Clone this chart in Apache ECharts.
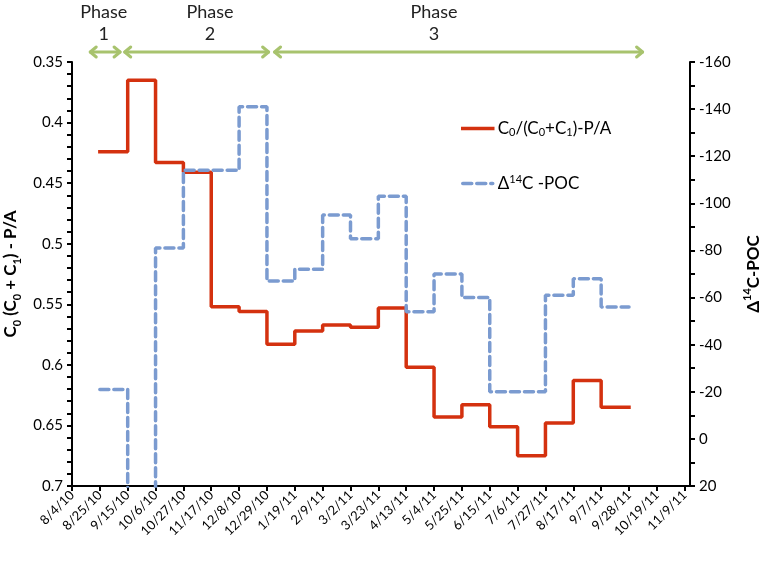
<!DOCTYPE html>
<html><head><meta charset="utf-8">
<script src="https://cdn.jsdelivr.net/npm/echarts@6/dist/echarts.min.js"></script>
<style>html,body{margin:0;padding:0;background:#fff}#c{width:762px;height:562px}</style>
</head><body><div id="c"></div>
<script>
// ---- data ----
const tickLabels = ['8/4/10','8/25/10','9/15/10','10/6/10','10/27/10','11/17/10','12/8/10','12/29/10','1/19/11','2/9/11','3/2/11','3/23/11','4/13/11','5/4/11','5/25/11','6/15/11','7/6/11','7/27/11','8/17/11','9/7/11','9/28/11','10/19/11','11/9/11'];
const axisEndDate = '11/13/11';
// step boundaries: each value holds from stepDates[i] to stepDates[i+1]
const stepDates = ['8/25/10','9/15/10','10/6/10','10/27/10','11/17/10','12/8/10','12/29/10','1/19/11','2/9/11','3/2/11','3/23/11','4/13/11','5/4/11','5/25/11','6/15/11','7/6/11','7/27/11','8/17/11','9/7/11','9/28/11'];
const ratioValues = [0.424,0.365,0.433,0.441,0.552,0.556,0.583,0.572,0.567,0.569,0.553,0.602,0.643,0.633,0.651,0.675,0.648,0.613,0.635];
const d14cValues = [-21,60,-81,-114,-114,-141,-67,-72,-95,-85,-103,-54,-70,-60,-20,-20,-61,-68,-56];
const seriesNames = ['ratio','d14c'];
const legendLabels = ['C{sub|0}/(C{sub|0}+C{sub|1})-P/A','Δ{sup|14}C -POC'];
const phaseNames = ['1','2','3'];
const phaseStart = ['8/17/10','9/12/10','1/3/11'];
const phaseEnd = ['9/10/10','12/31/10','10/9/11'];
const phaseLabelDates = ['8/28/10','11/16/10','5/4/11'];

// ---- helpers ----
function dayOf(s){const p=s.split('/').map(Number);return Math.round((Date.UTC(2000+p[2],p[0]-1,p[1])-Date.UTC(2010,7,4))/864e5);}
function stepData(vals){const out=vals.map((v,i)=>[dayOf(stepDates[i]),v]);out.push([dayOf(stepDates[vals.length]),vals[vals.length-1]]);return out;}
const tickDays = tickLabels.map(dayOf);
const labelByDay = {}; tickDays.forEach((d,i)=>labelByDay[d]=tickLabels[i]);

const FONT = 'Lato, "Liberation Sans", sans-serif';
const BLACK = '#000';
const RED = '#D4310F';
const BLUE = '#7B9BD0';
const GREEN = '#A8C36E';

const chart = echarts.init(document.getElementById('c'), null, {renderer:'canvas'});
function axisLine(){return {show:true,onZero:false,lineStyle:{color:BLACK,width:2}};}
function tick(extra){return Object.assign({show:true,inside:false,length:5,lineStyle:{color:BLACK,width:2}},extra||{});}
const option = {
  backgroundColor:'#fff',
  animation:false,
  textStyle:{fontFamily:FONT},
  grid:{left:72,right:72,top:62,bottom:76,containLabel:false,outerBoundsMode:'none'},
  legend:[0,1].map(i=>({
    data:[seriesNames[i]], left:456, top: i===0 ? 115 : 169,
    itemWidth:30, itemHeight:14, itemGap:0, selectedMode:false,
    itemStyle:{opacity:0},
    lineStyle:{width:3.5},
    formatter:()=>legendLabels[i],
    textStyle:{fontFamily:FONT,fontSize:17,color:BLACK,
      rich:{sub:{fontSize:11,fontFamily:FONT,color:BLACK,verticalAlign:'bottom',padding:[8,0,0,0]},
            sup:{fontSize:11,fontFamily:FONT,color:BLACK,verticalAlign:'top',padding:[0,0,8,0]}}}
  })),
  xAxis:{
    type:'value', min:0, max:dayOf(axisEndDate), interval:21,
    axisLine:axisLine(), splitLine:{show:false},
    axisTick:tick({customValues:tickDays}),
    axisLabel:{customValues:tickDays,rotate:45,margin:7,fontSize:13,color:BLACK,fontFamily:FONT,
      formatter:v=>labelByDay[Math.round(v)]||''}
  },
  yAxis:[
    {
      type:'value', inverse:true, min:0.35, max:0.7, interval:0.05, position:'left',
      axisLine:axisLine(), splitLine:{show:false}, axisTick:tick(),
      minorTick:{show:true,splitNumber:5,length:5,lineStyle:{color:BLACK,width:2}},
      minorSplitLine:{show:false},
      axisLabel:{fontSize:15,color:BLACK,margin:9,fontFamily:FONT},
      name:'C{s|0} (C{s|0} + C{s|1}) - P/A', nameLocation:'middle', nameRotate:90, nameGap:46,
      nameTextStyle:{fontSize:17,fontWeight:'bold',color:BLACK,fontFamily:FONT,lineHeight:24,
        rich:{s:{fontSize:11,fontWeight:'bold',color:BLACK,fontFamily:FONT,verticalAlign:'bottom',padding:[9,0,0,0]}}}
    },
    {
      type:'value', inverse:true, min:-160, max:20, interval:20, position:'right',
      axisLine:axisLine(), splitLine:{show:false}, axisTick:tick(),
      minorTick:{show:true,splitNumber:2,length:5,lineStyle:{color:BLACK,width:2}},
      minorSplitLine:{show:false},
      axisLabel:{fontSize:15,color:BLACK,margin:9,fontFamily:FONT},
      name:'Δ{t|14}C-POC', nameLocation:'middle', nameRotate:90, nameGap:50,
      nameTextStyle:{fontSize:17,fontWeight:'bold',color:BLACK,fontFamily:FONT,lineHeight:24,
        rich:{t:{fontSize:11,fontWeight:'bold',color:BLACK,fontFamily:FONT,verticalAlign:'top',padding:[0,0,9,0]}}}
    }
  ],
  series:[
    {name:seriesNames[0], type:'line', yAxisIndex:0, step:'end', symbol:'none', clip:true,
     data:stepData(ratioValues), lineStyle:{color:RED,width:3.5,cap:'square'}, itemStyle:{color:RED}},
    {name:seriesNames[1], type:'line', yAxisIndex:1, step:'end', symbol:'none', clip:true,
     data:stepData(d14cValues), lineStyle:{color:BLUE,width:3.5,type:[9,5],cap:'round'}, itemStyle:{color:BLUE}}
  ]
};
chart.setOption(option);

// phase annotations (arrows + labels) placed through the x axis scale
const gfx = [];
const ay = 52;
phaseNames.forEach((n,i)=>{
  const x1 = chart.convertToPixel({xAxisIndex:0}, dayOf(phaseStart[i]));
  const x2 = chart.convertToPixel({xAxisIndex:0}, dayOf(phaseEnd[i]));
  const xt = chart.convertToPixel({xAxisIndex:0}, dayOf(phaseLabelDates[i]));
  const st = {stroke:GREEN,lineWidth:3,lineCap:'round',lineJoin:'round',fill:null};
  gfx.push({type:'line',shape:{x1:x1+1,y1:ay,x2:x2-1,y2:ay},style:st,silent:true});
  gfx.push({type:'polyline',shape:{points:[[x1+7,ay-5],[x1+1,ay],[x1+7,ay+5]]},style:st,silent:true});
  gfx.push({type:'polyline',shape:{points:[[x2-7,ay-5],[x2-1,ay],[x2-7,ay+5]]},style:st,silent:true});
  gfx.push({type:'text',x:xt,y:12,style:{text:'Phase',fontSize:18,fontFamily:FONT,fill:'#222',align:'center',verticalAlign:'middle'},silent:true});
  gfx.push({type:'text',x:xt,y:34,style:{text:n,fontSize:18,fontFamily:FONT,fill:'#222',align:'center',verticalAlign:'middle'},silent:true});
});
chart.setOption({graphic:gfx});
</script>
</body></html>
